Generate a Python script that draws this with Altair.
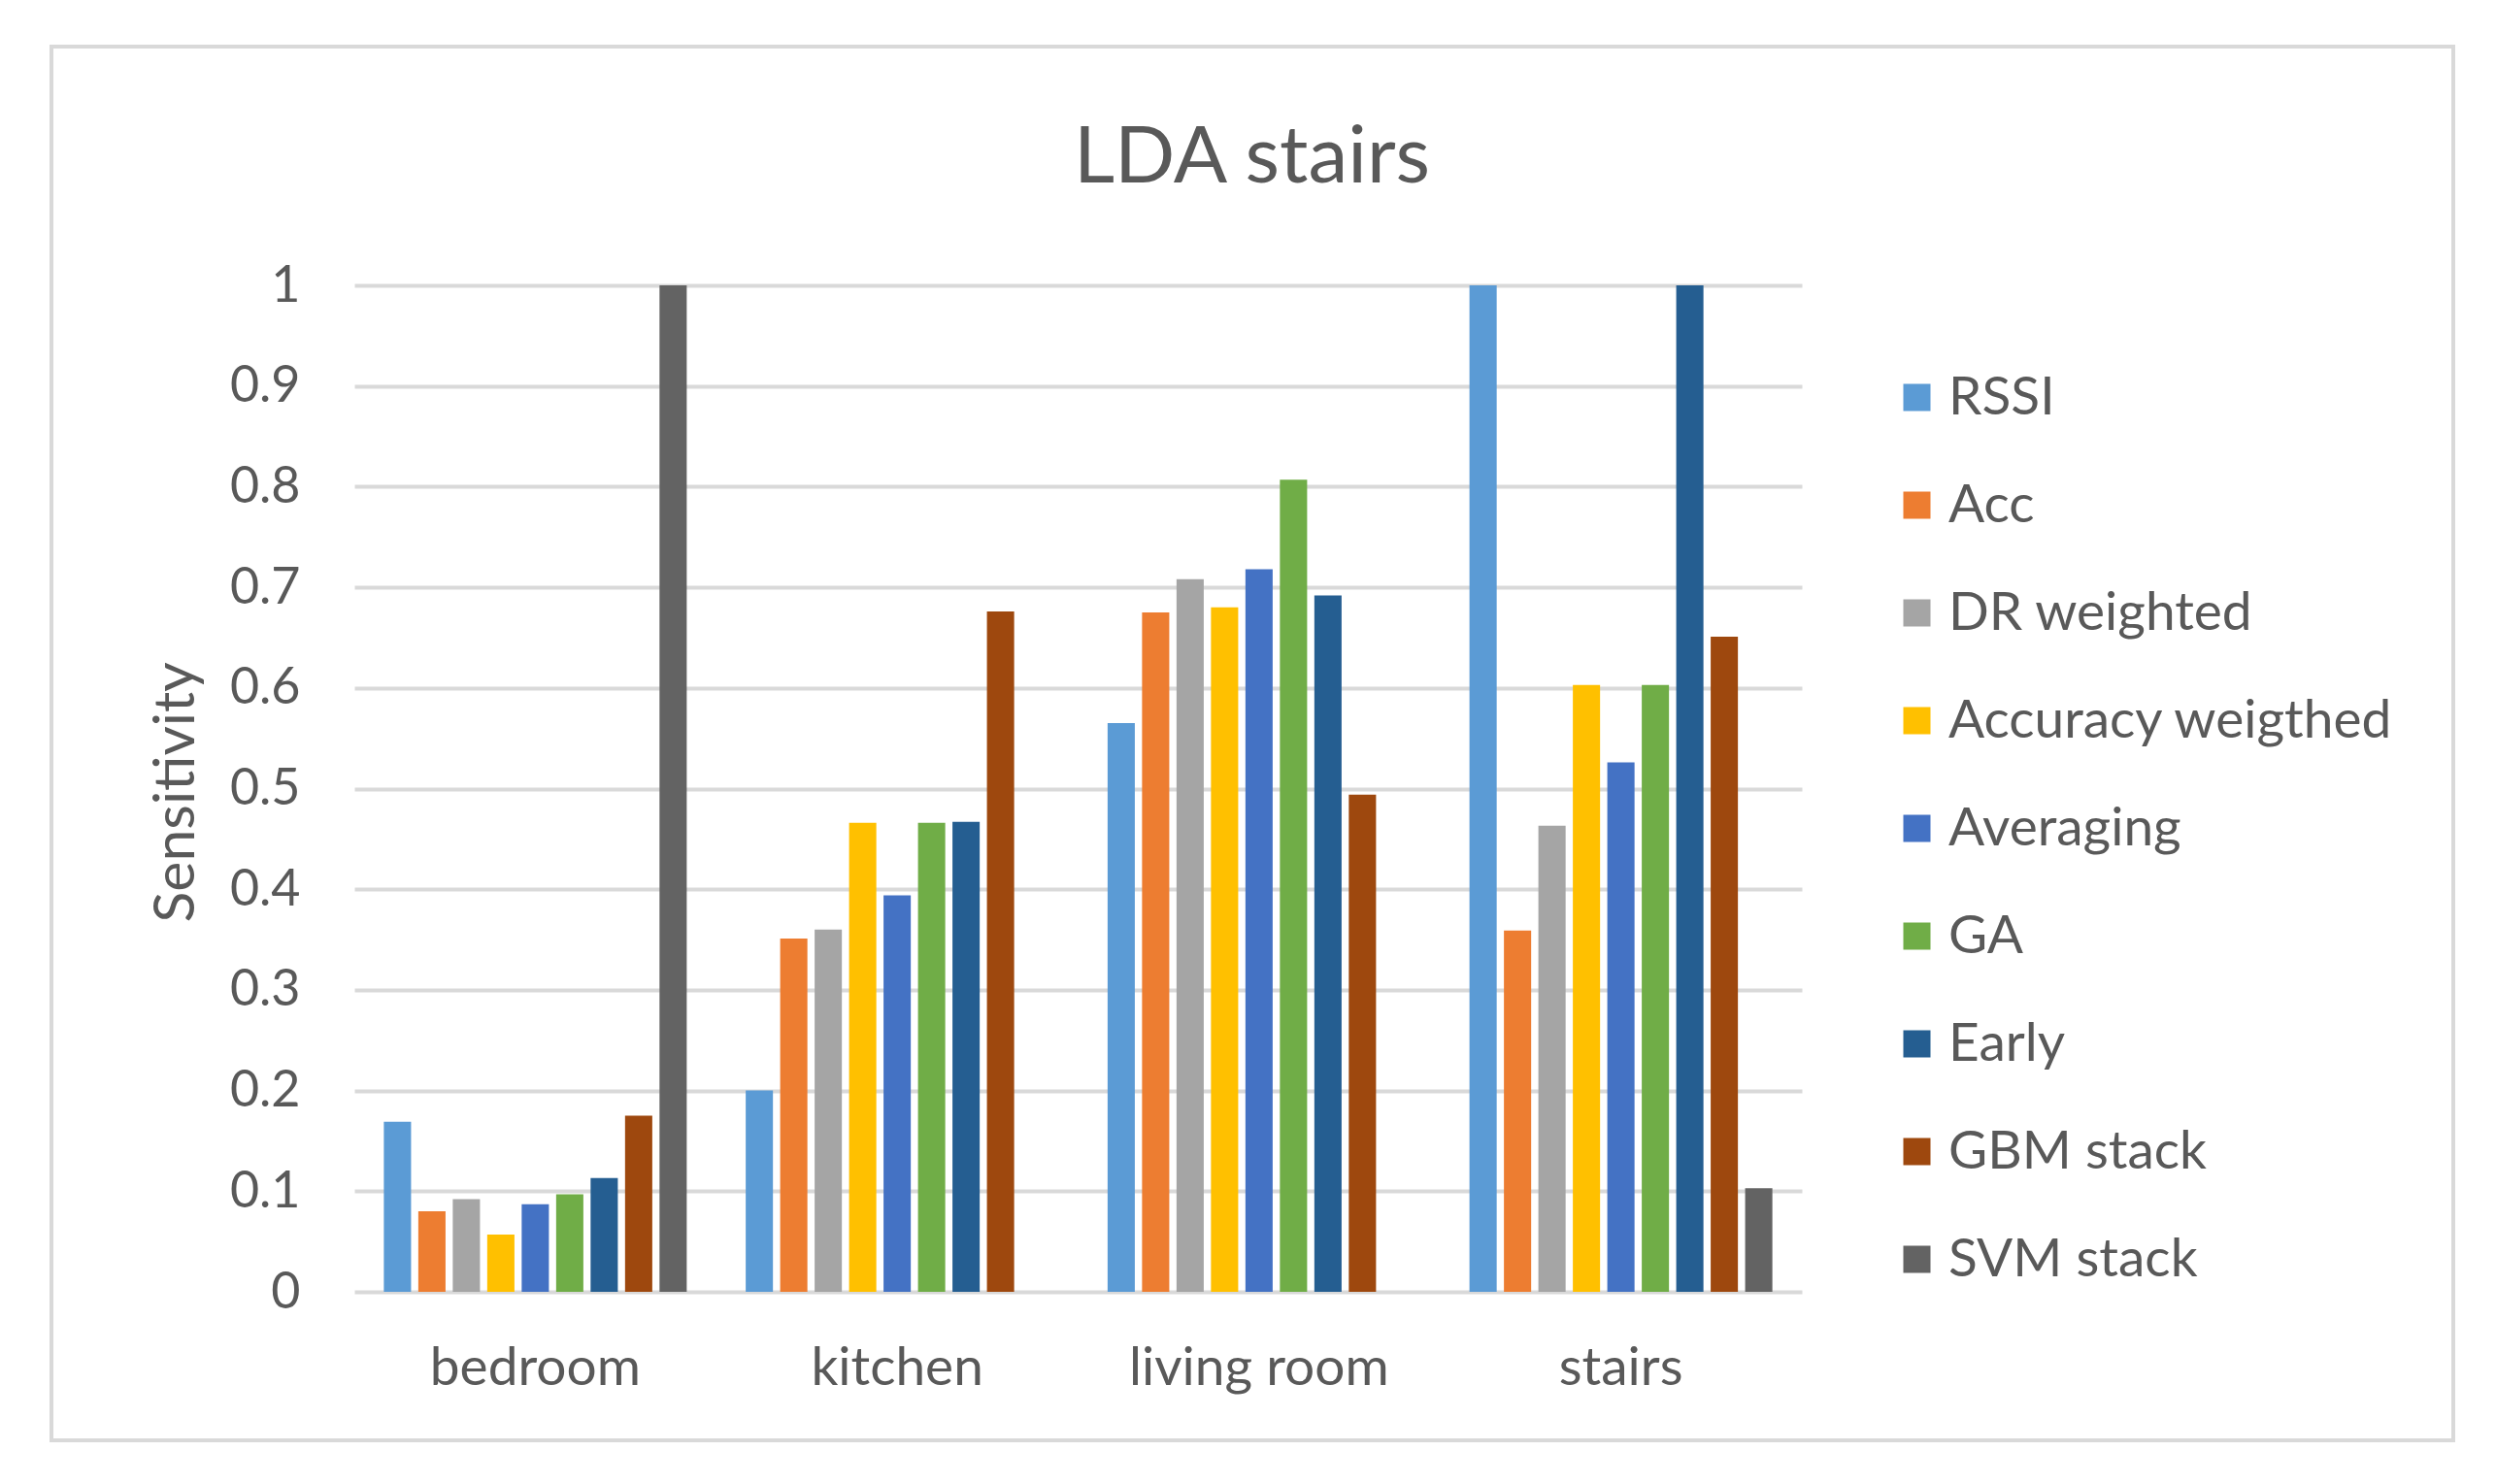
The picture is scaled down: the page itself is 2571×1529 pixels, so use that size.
import altair as alt
import pandas as pd

rooms = ["bedroom", "kitchen", "living room", "stairs"]
series = ["RSSI", "Acc", "DR weighted", "Accuracy weigthed", "Averaging",
          "GA", "Early", "GBM stack", "SVM stack"]

rssi = [0.169, 0.200, 0.565, 1.000]
acc = [0.080, 0.351, 0.675, 0.359]
dr_weighted = [0.092, 0.360, 0.708, 0.463]
accuracy_weigthed = [0.057, 0.466, 0.680, 0.603]
averaging = [0.087, 0.394, 0.718, 0.526]
ga = [0.097, 0.466, 0.807, 0.603]
early = [0.113, 0.467, 0.692, 1.000]
gbm_stack = [0.175, 0.676, 0.494, 0.651]
svm_stack = [1.000, 0.000, 0.000, 0.103]

colors = ["#5B9BD5", "#ED7D31", "#A5A5A5", "#FFC000", "#4472C4",
          "#70AD47", "#255E91", "#9E480E", "#636363"]

values_by_series = [rssi, acc, dr_weighted, accuracy_weigthed, averaging,
                    ga, early, gbm_stack, svm_stack]

rows = []
for s, vals in zip(series, values_by_series):
    for r, v in zip(rooms, vals):
        rows.append({"room": r, "series": s, "value": v})
df = pd.DataFrame(rows)

TEXT = "#595959"
FONT = "Lato"

bars = alt.Chart(df).mark_bar().encode(
    x=alt.X("room:N", sort=rooms,
            scale=alt.Scale(paddingInner=0.143, paddingOuter=0.0715),
            axis=alt.Axis(title=None, domain=False, ticks=False, tickSize=0,
                          labelAngle=0, labelFontSize=55, labelFont=FONT,
                          labelColor=TEXT, labelPadding=95, labelLimit=0,
                          labelBaseline="alphabetic", grid=False)),
    xOffset=alt.XOffset("series:N", sort=series,
                        scale=alt.Scale(paddingInner=0.21, paddingOuter=0.105)),
    y=alt.Y("value:Q", scale=alt.Scale(domain=[0, 1], nice=False),
            axis=alt.Axis(title="Sensitivity", values=[i / 10 for i in range(11)],
                          format="~g", domain=False, ticks=False, tickSize=0,
                          labelFontSize=52, labelFont=FONT, labelColor=TEXT,
                          labelPadding=56, labelLimit=0, grid=True,
                          gridColor="#D9D9D9", gridWidth=4, titleFontSize=59,
                          titleFont=FONT, titleColor=TEXT,
                          titleFontWeight="normal", titleAngle=270,
                          titleX=-184, titleY=522, titleAlign="center",
                          titleBaseline="middle")),
    color=alt.Color("series:N", sort=series,
                    scale=alt.Scale(domain=series, range=colors),
                    legend=alt.Legend(title=None, orient="none", legendX=1582,
                                      legendY=88, symbolType="square",
                                      symbolSize=784, symbolStrokeWidth=0,
                                      symbolOpacity=1, labelFontSize=55,
                                      labelFont=FONT, labelColor=TEXT,
                                      labelOffset=5, labelLimit=0,
                                      rowPadding=55, padding=0)),
)

border = alt.Chart(pd.DataFrame({"a": [0]})).mark_rect(
    fill=None, stroke="#D9D9D9", strokeWidth=4
).encode(
    x=alt.value(-312), x2=alt.value(2162),
    y=alt.value(-246), y2=alt.value(1190)
)

chart = alt.layer(border, bars).properties(
    width=1491,
    height=1037,
    padding={"left": 357, "top": 286, "right": 690, "bottom": 180},
    autosize=alt.AutoSizeParams(type="none"),
    title=alt.TitleParams("LDA stairs", fontSize=82, font=FONT, color=TEXT,
                          fontWeight="normal", anchor="middle", frame="group",
                          dx=179, offset=-224, baseline="alphabetic"),
    background="white",
).configure_view(stroke=None)

chart.save("out.html", embed_options={"renderer": "svg", "actions": False})
